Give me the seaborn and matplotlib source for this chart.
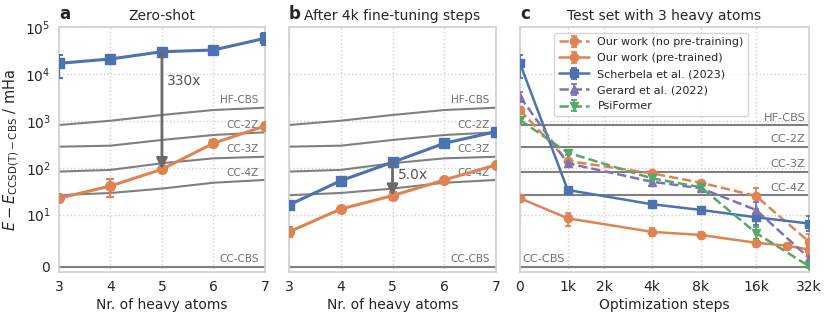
import numpy as np
import pandas as pd
import seaborn as sns
import matplotlib
matplotlib.use("Agg")
import matplotlib.pyplot as plt

# data
n_atoms = [3, 4, 5, 6, 7]

# reference methods (mHa above CCSD(T)-CBS)
ref_names = ["HF-CBS", "CC-2Z", "CC-3Z", "CC-4Z", "CC-CBS"]
hf_cbs = [817, 1009, 1337, 1706, 1910]
cc_2z = [282, 296, 392, 500, 571]
cc_3z = [83, 90, 125, 159, 172]
cc_4z = [26, 29, 36, 48, 55]
cc_cbs = [0, 0, 0, 0, 0]

# panel a: zero-shot
a_scherbela = [16900, 20900, 29900, 32500, 57700]
a_scherbela_err = [8500, 1500, 2000, 2000, 16000]
a_ours = [22.4, 40.9, 92.9, 333, 778]
a_ours_err = [4, 17, 8, 60, 90]

# panel b: after 4k fine-tuning steps
b_scherbela = [16.1, 53, 131, 333, 589]
b_scherbela_err = [1.5, 4, 8, 20, 30]
b_ours = [6.7, 13.2, 25.4, 55, 115]
b_ours_err = [1.0, 1.0, 5, 3, 6]

# panel c: test set with 3 heavy atoms
c_steps = [0, 1000, 4000, 8000, 16000, 32000]
c_pre_steps = [0, 1000, 4000, 8000, 16000, 24000, 32000]
c_nopre = [1700, 140, 76, 48, 25, 4.8]
c_nopre_err = [250, 15, 8, 5, 12, 1.5]
c_pre = [22.4, 9.3, 6.7, 6.1, 4.6, 4.05, 3.3]
c_pre_err = [4, 1.5, 0.8, 0.5, 0.8, 0.4, 0.5]
c_scherbela = [16900, 33.6, 16.7, 12.6, 9.5, 8.3]
c_scherbela_err = [8500, 2, 1.5, 1, 1.5, 1.5]
c_gerard = [3280, 125, 50.5, 36.5, 12.6, 1.7]
c_gerard_err = [800, 15, 5, 4, 6, 0.8]
c_psiformer = [1045, 210, 59.7, 38.4, 6.5, 0.1]
c_psiformer_err = [100, 25, 6, 4, 1.2, 0.3]

step_ticks = [0, 1000, 2000, 4000, 8000, 16000, 32000]
step_labels = ["0", "1k", "2k", "4k", "8k", "16k", "32k"]

sns.set_theme(style="whitegrid", palette="deep", rc={
    "grid.linestyle": ":", "grid.color": ".82", "axes.edgecolor": ".82",
    "axes.linewidth": 1.25, "font.size": 10, "axes.labelsize": 10,
    "axes.titlesize": 10, "xtick.labelsize": 10, "ytick.labelsize": 10,
    "legend.fontsize": 8, "xtick.major.size": 0, "ytick.major.size": 0,
    "xtick.major.pad": 5.5, "ytick.major.pad": 6,
    "text.color": ".15", "axes.labelcolor": ".15",
})
pal = sns.color_palette("deep")
blue, orange, green, purple = pal[0], pal[1], pal[2], pal[4]
ref_color = "#808080"
arrow_color = "#6a6a6a"

# x scale of panel c: piecewise, linear below 1k and log2 above
axis_breaks = [-47.7, 0, 47.7, 84, 131.7, 181, 236, 289, 342]
g_breaks = [-1, 0, 1, 2, 3, 4, 5, 6, 7]


def _g(x):
    x = np.asarray(x, dtype=float)
    return np.where(x < 1000, x / 1000, 1 + np.log2(np.maximum(x, 1000) / 1000))


def _ginv(u):
    u = np.asarray(u, dtype=float)
    return np.where(u < 1, u * 1000, 1000 * 2 ** (np.maximum(u, 1) - 1))


def steps_fwd(x):
    return np.interp(_g(x), g_breaks, axis_breaks)


def steps_inv(p):
    return _ginv(np.interp(p, axis_breaks, g_breaks))


fig = plt.figure(figsize=(8.3, 3.23), dpi=100)
ax_a = fig.add_axes([0.0711, 0.158, 0.248, 0.758])
ax_b = fig.add_axes([0.3482, 0.158, 0.2494, 0.758])
ax_c = fig.add_axes([0.6265, 0.158, 0.3482, 0.758])

refs = [hf_cbs, cc_2z, cc_3z, cc_4z, cc_cbs]

for ax in [ax_a, ax_b, ax_c]:
    ax.set_yscale("symlog", linthresh=10, linscale=1)
    ax.set_ylim(-1, 1e5)
    ax.set_yticks([0, 10, 100, 1e3, 1e4, 1e5])
    ax.yaxis.set_minor_locator(matplotlib.ticker.NullLocator())
    ax.grid(True, which="major")

ebkw = dict(capsize=3, capthick=1.5, elinewidth=1.5)

for ax, blue_y, blue_e, or_y, or_e, ratio, txt_y in [
        (ax_a, a_scherbela, a_scherbela_err, a_ours, a_ours_err, "330x", 7200),
        (ax_b, b_scherbela, b_scherbela_err, b_ours, b_ours_err, "5.0x", 70)]:
    for vals, name in zip(refs, ref_names):
        sns.lineplot(x=n_atoms, y=vals, ax=ax, color=ref_color, lw=1.5, zorder=1)
        ax.text(6.88, vals[-1] * 1.12 if vals[-1] > 0 else 0.6, name, ha="right",
                va="bottom", fontsize=7.5, color="#707070", zorder=2)
    ax.errorbar(n_atoms, blue_y, yerr=blue_e, color=blue, marker="s", ms=7,
                lw=2.2, zorder=4, **ebkw)
    ax.errorbar(n_atoms, or_y, yerr=or_e, color=orange, marker="o", ms=7,
                lw=2.2, zorder=4, **ebkw)
    ax.annotate("", xy=(5, or_y[2]), xytext=(5, blue_y[2]),
                arrowprops=dict(arrowstyle="-|>", color=arrow_color, lw=2,
                                shrinkA=0, shrinkB=0, mutation_scale=16),
                zorder=5)
    ax.text(5.1, txt_y, ratio, fontsize=10, color="#555555", va="center",
            ha="left", zorder=6)
    ax.set_xlim(3, 7)
    ax.set_xticks(n_atoms)
    ax.set_xlabel("Nr. of heavy atoms", labelpad=3)

ax_a.set_ylabel(r"$E - E_{\mathrm{CCSD(T)-CBS}}$ / mHa", fontsize=10.5,
                labelpad=3)
ax_b.tick_params(labelleft=False)
ax_c.tick_params(labelleft=False)

# panel c
ax_c.set_xscale("function", functions=(steps_fwd, steps_inv))
ax_c.set_xlim(0, 32000)
ax_c.set_xticks(step_ticks)
ax_c.set_xticklabels(step_labels)
ax_c.xaxis.set_minor_locator(matplotlib.ticker.NullLocator())
for vals, name in zip(refs, ref_names):
    ax_c.axhline(vals[0], color=ref_color, lw=1.5, zorder=1)
    if name == "CC-CBS":
        ax_c.text(50, 0.6, name, ha="left", va="bottom", fontsize=8.2,
                  color="#707070", zorder=2)
    else:
        ax_c.text(30500, vals[0] * 1.12, name, ha="right", va="bottom",
                  fontsize=8.2, color="#707070", zorder=2)

ckw = dict(ms=6, lw=1.8, capsize=2.5, capthick=1.3, elinewidth=1.3, zorder=4)
ax_c.errorbar(c_steps, c_nopre, yerr=c_nopre_err, color=orange, marker="o",
              ls="--", label="Our work (no pre-training)", **ckw)
ax_c.errorbar(c_pre_steps, c_pre, yerr=c_pre_err, color=orange, marker="o",
              ls="-", label="Our work (pre-trained)", **ckw)
ax_c.errorbar(c_steps, c_scherbela, yerr=c_scherbela_err, color=blue,
              marker="s", ls="-", label="Scherbela et al. (2023)", **ckw)
ax_c.errorbar(c_steps, c_gerard, yerr=c_gerard_err, color=purple, marker="^",
              ls="--", label="Gerard et al. (2022)", **ckw)
ax_c.errorbar(c_steps, c_psiformer, yerr=c_psiformer_err, color=green,
              marker="v", ls="--", label="PsiFormer", **ckw)
ax_c.set_xlabel("Optimization steps", labelpad=3)
leg = ax_c.legend(loc="upper left", bbox_to_anchor=(0.118, 0.978),
                  borderaxespad=0, handlelength=2.7, labelspacing=0.55,
                  frameon=True)
leg.set_zorder(10)

for ax, letter, title in [(ax_a, "a", "Zero-shot"),
                          (ax_b, "b", "After 4k fine-tuning steps"),
                          (ax_c, "c", "Test set with 3 heavy atoms")]:
    ax.set_title(title, pad=5)
    ax.text(0, 1.018, letter, transform=ax.transAxes, fontsize=12,
            fontweight="bold", ha="left", va="bottom")

fig.savefig("out.png", dpi=100)
